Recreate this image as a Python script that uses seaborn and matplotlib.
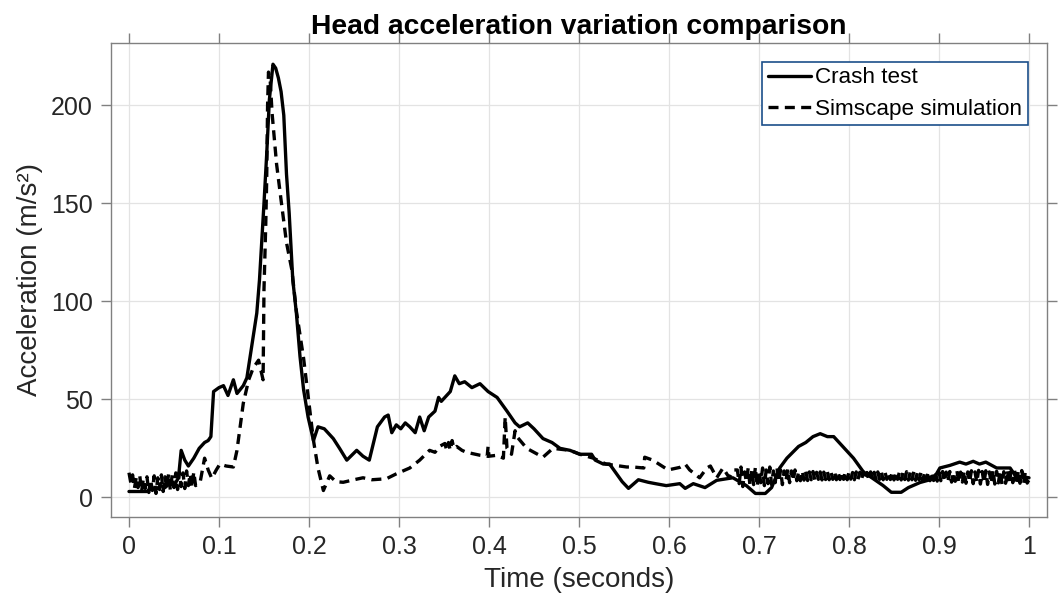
import numpy as np
import pandas as pd
import matplotlib
matplotlib.use("Agg")
import matplotlib.pyplot as plt
import seaborn as sns

# ---- data ----
crash_t = [0.000, 0.010, 0.020, 0.025, 0.030, 0.035, 0.040, 0.045, 0.050, 0.055,
           0.058, 0.062, 0.066, 0.072, 0.078, 0.084, 0.088, 0.091, 0.094, 0.100,
           0.105, 0.110, 0.116, 0.120, 0.127, 0.131, 0.136, 0.142, 0.145, 0.150,
           0.153, 0.156, 0.160, 0.163, 0.166, 0.169, 0.172, 0.175, 0.178, 0.182,
           0.186, 0.190, 0.194, 0.199, 0.205, 0.210, 0.217, 0.227, 0.234, 0.242,
           0.253, 0.260, 0.267, 0.276, 0.284, 0.288, 0.292, 0.297, 0.302, 0.307,
           0.312, 0.318, 0.323, 0.328, 0.333, 0.340, 0.344, 0.347, 0.353, 0.357,
           0.362, 0.367, 0.373, 0.381, 0.390, 0.399, 0.409, 0.420, 0.429, 0.434,
           0.443, 0.450, 0.460, 0.470, 0.479, 0.490, 0.501, 0.514, 0.518, 0.527,
           0.534, 0.548, 0.555, 0.566, 0.577, 0.585, 0.597, 0.612, 0.618, 0.627,
           0.640, 0.653, 0.671, 0.686, 0.696, 0.707, 0.714, 0.723, 0.731, 0.744,
           0.752, 0.760, 0.768, 0.776, 0.783, 0.793, 0.805, 0.816, 0.827, 0.838,
           0.847, 0.858, 0.866, 0.879, 0.894, 0.901, 0.912, 0.923, 0.930, 0.938,
           0.945, 0.952, 0.964, 0.979, 0.985, 1.000]
crash_a = [3, 3, 3, 5, 4, 6, 5, 7, 6, 10,
           24, 19, 16, 20, 25, 28, 29, 31, 54, 56,
           57, 52, 60, 53, 57, 61, 76, 94, 111, 150,
           175, 203, 221, 219, 214, 207, 195, 165, 145, 111,
           94, 72, 55, 41, 29, 36, 35, 30, 25, 19,
           24, 21, 19, 36, 41, 42, 33, 37, 35, 38,
           36, 33, 41, 34, 41, 44, 51, 49, 52, 54,
           62, 58, 59, 56, 58, 54, 51, 44, 38, 36,
           38, 35, 30, 28, 25, 24, 22, 22, 19, 17,
           17, 8, 4.6, 9, 7.7, 7, 6, 7, 4.6, 7,
           5, 8.7, 10, 6, 2, 2, 5, 15, 20, 26,
           28, 31, 32.5, 31, 31, 26, 20, 13, 9.5, 6,
           2.6, 2.6, 5, 7.6, 9.5, 15, 16.3, 18, 17, 18.4,
           17, 18, 15, 15, 11, 10]

sim_t = [0.000, 0.002, 0.004, 0.006, 0.008, 0.010, 0.012, 0.014, 0.016, 0.018,
         0.020, 0.022, 0.024, 0.026, 0.028, 0.030, 0.032, 0.034, 0.036, 0.038,
         0.040, 0.042, 0.044, 0.046, 0.048, 0.050, 0.052, 0.054, 0.056, 0.058,
         0.060, 0.062, 0.064, 0.066, 0.068, 0.070, 0.072, 0.074,
         0.079, 0.084, 0.088, 0.092,
         0.097, 0.101, 0.108, 0.116, 0.120, 0.127, 0.133, 0.138, 0.144, 0.148,
         0.149, 0.150, 0.152, 0.153, 0.154, 0.155, 0.157, 0.159, 0.164, 0.170,
         0.175, 0.181, 0.186, 0.194, 0.200, 0.205, 0.210, 0.216, 0.223, 0.230,
         0.238, 0.250, 0.260, 0.270, 0.286, 0.297, 0.312, 0.323, 0.334, 0.340,
         0.345, 0.351, 0.353, 0.355, 0.357, 0.359, 0.361, 0.364, 0.370, 0.375,
         0.390, 0.398, 0.399, 0.400, 0.409, 0.416, 0.418, 0.420, 0.425, 0.429,
         0.431, 0.442, 0.460, 0.471, 0.490, 0.501, 0.516, 0.530, 0.553, 0.560,
         0.572, 0.573, 0.582, 0.599, 0.612, 0.618, 0.623, 0.634, 0.642, 0.646,
         0.653, 0.660, 0.667, 0.672,
         0.676, 0.678, 0.680, 0.682, 0.684, 0.686, 0.688, 0.690, 0.692, 0.694,
         0.696, 0.698, 0.700, 0.702, 0.704, 0.706, 0.708, 0.710, 0.712, 0.714,
         0.716, 0.718, 0.720, 0.722, 0.724, 0.726, 0.728, 0.730, 0.732, 0.734,
         0.736, 0.738, 0.740, 0.742, 0.744, 0.746, 0.748, 0.750, 0.752, 0.754,
         0.756, 0.758, 0.760, 0.762, 0.764, 0.766, 0.768, 0.770, 0.772, 0.774,
         0.776, 0.778, 0.780, 0.782, 0.784, 0.786, 0.788, 0.790, 0.792, 0.794,
         0.796, 0.798, 0.800, 0.802, 0.804, 0.806, 0.808, 0.810, 0.812, 0.814,
         0.816, 0.818, 0.820, 0.822, 0.824, 0.826, 0.828, 0.830, 0.832, 0.834,
         0.836, 0.838, 0.840, 0.842, 0.844, 0.846, 0.848, 0.850, 0.852, 0.854,
         0.856, 0.858, 0.860, 0.862, 0.864, 0.866, 0.868, 0.870, 0.872, 0.874,
         0.876, 0.878, 0.880, 0.882, 0.884, 0.886, 0.888, 0.890, 0.892, 0.894,
         0.896, 0.898, 0.900, 0.902, 0.904, 0.906, 0.908, 0.910, 0.912, 0.914,
         0.916, 0.918, 0.920, 0.922, 0.924, 0.926, 0.928, 0.930, 0.932, 0.934,
         0.936, 0.938, 0.940, 0.942, 0.944, 0.946, 0.948, 0.950, 0.952, 0.954,
         0.956, 0.958, 0.960, 0.962, 0.964, 0.966, 0.968, 0.970, 0.972, 0.974,
         0.976, 0.978, 0.980, 0.982, 0.984, 0.986, 0.988, 0.990, 0.992, 0.994,
         0.996, 0.998, 1.000]
sim_a = [12.6, 7.5, 11.5, 4.5, 10, 5, 11, 3, 9.5, 4.5,
         10.5, 2.5, 9, 3.5, 11, 2, 10, 4, 11.5, 3,
         10.5, 4.5, 12, 3.5, 11.5, 5, 12.5, 4, 13, 5.5,
         12.5, 4.5, 13.5, 6, 12, 5, 13, 6,
         7.6, 20, 14, 9.7,
         14, 17, 16, 15.5, 24, 48, 60, 66, 70, 62,
         60, 106, 140, 162, 200, 217, 212, 196, 170, 148,
         130, 116, 95, 71, 48, 29, 15, 3.5, 11, 8,
         7.7, 9, 10, 9, 9.5, 12, 15, 19, 24, 23,
         26, 27.5, 24, 28, 24, 29, 25, 26, 24, 23,
         21.5, 21, 26, 21, 21.5, 20, 41, 25, 22, 34,
         31, 25, 20.5, 25, 24, 22, 20, 17, 15.5, 15.5,
         15, 20.5, 19, 14, 15.3, 17, 14, 10, 15, 16,
         10, 15, 10, 14,
         14, 7, 15.5, 5.5, 13, 8, 15, 6, 14, 6.5,
         15.5, 5.5, 13.5, 7.5, 15, 6, 14, 7, 15.5, 6.5,
         13.5, 7.5, 15, 8, 14, 6.5, 13.5, 8.5, 14.5, 7.5,
         13.5, 8.5, 14, 8.5, 13, 8.5, 13.5, 8.8, 13.2, 8.6,
         13, 9, 13.2, 8.8, 12.8, 9.2, 13, 8.9, 12.9, 9.1,
         13, 9, 12.8, 9.2, 13.1, 9, 12.9, 9.1, 13, 9.2,
         12.8, 9, 13, 9.3, 12.7, 9, 13, 9.2, 12.8, 9.1,
         13, 9.2, 12.7, 9, 13, 9.3, 12.8, 9.1, 13, 9.2,
         12.8, 9, 13, 9.2, 12.7, 9.1, 13, 8.9, 12.8, 9.2,
         13, 8.9, 12.8, 9.1, 13.1, 8.8, 12.9, 9, 13.1, 8.7,
         12.9, 8.9, 13, 8.6, 12.8, 8.8, 13.1, 8.5, 12.9, 8.6,
         13, 8.3, 12.8, 8.5, 13.2, 8, 12.9, 8.3, 13.2, 7.8,
         12.8, 8.2, 13.4, 7.4, 12.9, 7.8, 13.5, 7.2, 13, 7.8,
         13.6, 7, 13, 7.6, 13.8, 6.8, 13.2, 7.4, 13.6, 6.6,
         13, 7.2, 13.8, 6.8, 13.3, 7.4, 13.7, 6.6, 13.1, 7.2,
         13.8, 6.8, 13.2, 7.5, 13.6, 6.6, 13, 7.2, 13.7, 6.9,
         13.2, 7.3, 9]

x_ticks = [0, 0.1, 0.2, 0.3, 0.4, 0.5, 0.6, 0.7, 0.8, 0.9, 1]
x_tick_labels = ["0", "0.1", "0.2", "0.3", "0.4", "0.5", "0.6", "0.7", "0.8", "0.9", "1"]
y_ticks = [0, 50, 100, 150, 200]

crash_df = pd.DataFrame({"Time": crash_t, "Acc": crash_a})
sim_df = pd.DataFrame({"Time": sim_t, "Acc": sim_a})

sns.set_theme(style="white")
plt.rcParams["font.family"] = ["Liberation Sans", "DejaVu Sans"]
plt.rcParams["path.simplify"] = False

fig = plt.figure(figsize=(10.61, 6.07), dpi=100)
ax = fig.add_axes([0.1046, 0.1483, 0.8822, 0.7814])

sns.lineplot(data=crash_df, x="Time", y="Acc", ax=ax, color="black", lw=2.4,
             estimator=None, sort=False, label="Crash test")
sns.lineplot(data=sim_df, x="Time", y="Acc", ax=ax, color="black", lw=2.4,
             estimator=None, sort=False, label="Simscape simulation",
             dashes=False, linestyle=(0, (3.0, 1.9)))

ax.set_xlim(-0.02, 1.02)
ax.set_ylim(-10, 232)
ax.set_xticks(x_ticks)
ax.set_xticklabels(x_tick_labels)
ax.set_yticks(y_ticks)

ax.grid(True, color="#e3e3e3", lw=0.9)
ax.set_axisbelow(True)
for s in ax.spines.values():
    s.set_color("#808080")
    s.set_linewidth(1.0)
    s.set_visible(True)

ax.tick_params(axis="both", which="major", direction="out", length=7, width=1,
               color="#808080", labelcolor="#262626", labelsize=18, pad=6,
               top=True, right=True, bottom=True, left=True,
               labeltop=False, labelright=False)

ax.set_xlabel("Time (seconds)", fontsize=20, color="#262626", labelpad=6)
ax.set_ylabel("Acceleration (m/s²)", fontsize=20, color="#262626", labelpad=6)
ax.set_title("Head acceleration variation comparison", fontsize=20.3,
             fontweight="bold", color="black", pad=6)

leg = ax.legend(loc="upper right", fontsize=16.2, frameon=True, fancybox=False,
                framealpha=1, edgecolor="#1b4f8a", handlelength=1.9,
                handletextpad=0.2, borderpad=0.25, labelspacing=0.45,
                borderaxespad=0.85)
leg.get_frame().set_linewidth(1.2)
for t in leg.get_texts():
    t.set_color("black")

fig.savefig("out.png", dpi=100)
